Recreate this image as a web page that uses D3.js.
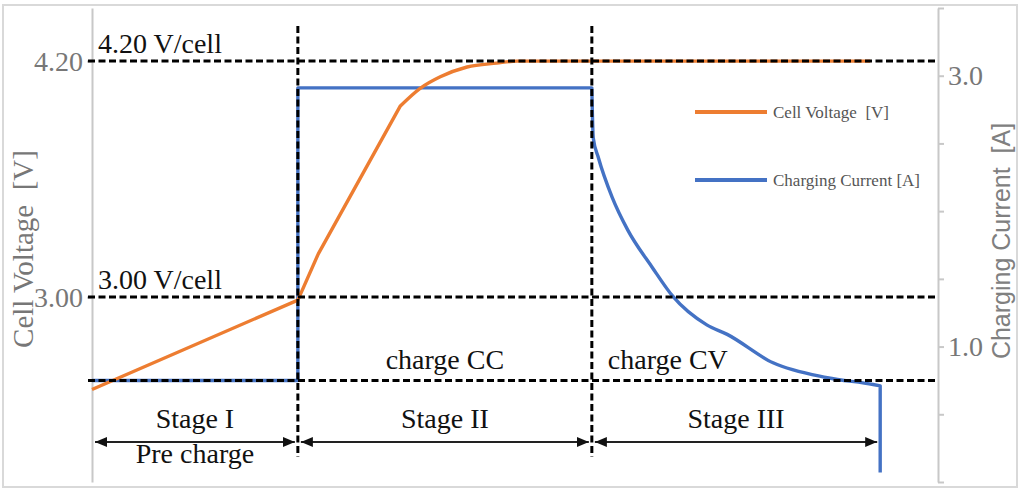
<!DOCTYPE html>
<html>
<meta charset="utf-8">
<style>
  body { margin: 0; background: #fff; }
  svg { display: block; }
  text { font-family: "Liberation Serif", "Times New Roman", serif; }
</style>

<body>
  <svg></svg>
</body>

<script src="https://d3js.org/d3.v7.min.js"></script>

<script>

  var width = 1021, height = 490;

  // time axis is not drawn, minutes
  var voltTime   = [0, 29.2, 32.1, 43.7, 46.5, 49.4, 53.2, 57.4, 60.3, 110.4];
  var voltValues = [2.53, 2.985, 3.22, 3.97, 4.06, 4.12, 4.17, 4.19, 4.20, 4.20];

  var currTime   = [0, 29.2, 29.2, 70.9, 71.1, 71.8, 73.8, 76.0, 79.4, 82.4, 87.2, 90.1, 96.6, 104.3, 110.8, 111.8, 111.8];
  var currValues = [0.75, 0.75, 2.91, 2.91, 2.54, 2.40, 2.10, 1.86, 1.59, 1.37, 1.16, 1.09, 0.88, 0.77, 0.72, 0.71, 0.07];

  var stageEdges = [0, 29.2, 70.9, 111.8];
  var stageNames = ["Stage I", "Stage II", "Stage III"];
  var modeLabels = ["charge CC", "charge CV"];

  var voltLevels = [4.20, 3.00];
  var voltLevelLabels = ["4.20 V/cell", "3.00 V/cell"];
  var currLevel = 0.75;

  var voltTicks = [3.00, 4.20];
  var currTicks = [0, 0.5, 1.0, 1.5, 2.0, 2.5, 3.0, 3.5];
  var currTickLabels = [1.0, 3.0];

  var seriesNames = ["Cell Voltage  [V]", "Charging Current [A]"];
  var orange = "#ed7d31", blue = "#4472c4";

  var svg = d3.select("svg")
    .attr("width", width)
    .attr("height", height);

  var x = d3.scaleLinear().domain([0, 120]).range([92, 938]);
  var yV = d3.scaleLinear().domain([2.06, 4.47]).range([482, 8]);
  var yC = d3.scaleLinear().domain([0, 3.5]).range([482, 8]);

  // outer frame
  svg.append("rect")
    .attr("x", 3).attr("y", 5)
    .attr("width", 1014).attr("height", 482)
    .attr("fill", "none")
    .attr("stroke", "#d9d9d9")
    .attr("stroke-width", 2);

  // axes
  var leftAxis = svg.append("g")
    .attr("transform", "translate(" + x(0) + ",0)")
    .call(d3.axisLeft(yV).tickValues(voltTicks).tickFormat(d3.format(".2f")).tickSize(5).tickSizeOuter(0).tickPadding(4));

  var rightAxis = svg.append("g")
    .attr("transform", "translate(" + x(120) + ",0)")
    .call(d3.axisRight(yC).tickValues(currTicks)
      .tickFormat(d => currTickLabels.indexOf(d) >= 0 ? d3.format(".1f")(d) : "")
      .tickSize(6).tickSizeOuter(0).tickPadding(4));

  [leftAxis, rightAxis].forEach(function (g) {
    g.select(".domain").attr("stroke", "#c8c8c8").attr("stroke-width", 2);
    g.selectAll(".tick line").attr("stroke", "#c8c8c8").attr("stroke-width", 2);
    g.selectAll(".tick text")
      .attr("fill", "#777")
      .style("font-family", '"Liberation Serif", serif')
      .style("font-size", "28px");
  });

  // axis titles
  svg.append("text")
    .attr("transform", "translate(33,249) rotate(-90)")
    .attr("text-anchor", "middle")
    .style("white-space", "pre")
    .style("font-size", "29px")
    .attr("fill", "#777")
    .text("Cell Voltage  [V]");

  svg.append("text")
    .attr("transform", "translate(1010,241) rotate(-90)")
    .attr("text-anchor", "middle")
    .style("white-space", "pre")
    .style("font-family", '"Liberation Sans", Arial, sans-serif')
    .style("font-size", "25px")
    .attr("fill", "#808080")
    .text("Charging Current  [A]");

  // series: straight steps, smooth constant-voltage decay
  var lin = d3.line().x(d => x(d.t)).y(d => d.y);
  var smooth = d3.line().curve(d3.curveMonotoneX).x(d => x(d.t)).y(d => d.y);

  var currPts = currValues.map((v, i) => ({ t: currTime[i], y: yC(v) }));
  var voltPts = voltValues.map((v, i) => ({ t: voltTime[i], y: yV(v) }));

  svg.append("path")
    .attr("d", lin(currPts.slice(0, 4)) + smooth(currPts.slice(3, 16)).replace(/^M/, "L") + lin(currPts.slice(15)).replace(/^M/, "L"))
    .attr("fill", "none")
    .attr("stroke", blue)
    .attr("stroke-width", 3.4)
    .attr("stroke-linejoin", "round");

  svg.append("path")
    .attr("d", lin(voltPts.slice(0, 4)) + smooth(voltPts.slice(3)).replace(/^M/, "L"))
    .attr("fill", "none")
    .attr("stroke", orange)
    .attr("stroke-width", 3.4)
    .attr("stroke-linejoin", "round");

  // dashed reference lines
  var dash = "7,3.5";
  var hLevels = voltLevels.map(v => yV(v)).concat([yC(currLevel)]);

  svg.selectAll(".hdash")
    .data(hLevels)
    .enter().append("line")
    .attr("x1", x(0) - 4).attr("x2", x(120))
    .attr("y1", d => d).attr("y2", d => d)
    .attr("stroke", "#000")
    .attr("stroke-width", 3)
    .attr("stroke-dasharray", dash);

  svg.selectAll(".vdash")
    .data(stageEdges.slice(1, 3))
    .enter().append("line")
    .attr("x1", d => x(d)).attr("x2", d => x(d))
    .attr("y1", 26).attr("y2", 457)
    .attr("stroke", "#000")
    .attr("stroke-width", 3)
    .attr("stroke-dasharray", dash);

  // level labels
  svg.selectAll(".lvl")
    .data(voltLevels)
    .enter().append("text")
    .attr("x", x(0) + 6)
    .attr("y", d => yV(d) - 8)
    .style("font-size", "28px")
    .attr("fill", "#111")
    .text((d, i) => voltLevelLabels[i]);

  // mode labels
  svg.append("text")
    .attr("x", (x(stageEdges[1]) + x(stageEdges[2])) / 2)
    .attr("y", yC(currLevel) - 11)
    .attr("text-anchor", "middle")
    .style("font-size", "28px")
    .attr("fill", "#111")
    .text(modeLabels[0]);

  svg.append("text")
    .attr("x", x(stageEdges[2]) + 16)
    .attr("y", yC(currLevel) - 11)
    .style("font-size", "28px")
    .attr("fill", "#111")
    .text(modeLabels[1]);

  // stage arrows
  var defs = svg.append("defs");
  defs.append("marker")
    .attr("id", "arrow")
    .attr("viewBox", "0 0 12 10")
    .attr("refX", 12).attr("refY", 5)
    .attr("markerWidth", 12).attr("markerHeight", 10)
    .attr("markerUnits", "userSpaceOnUse")
    .attr("orient", "auto-start-reverse")
    .append("path")
    .attr("d", "M0,0L12,5L0,10z")
    .attr("fill", "#111");

  var stages = stageNames.map((n, i) => ({ name: n, a: stageEdges[i], b: stageEdges[i + 1] }));

  svg.selectAll(".arrow")
    .data(stages)
    .enter().append("line")
    .attr("x1", d => x(d.a) + 3).attr("x2", d => x(d.b) - 3)
    .attr("y1", 442).attr("y2", 442)
    .attr("stroke", "#222")
    .attr("stroke-width", 1.8)
    .attr("marker-start", "url(#arrow)")
    .attr("marker-end", "url(#arrow)");

  svg.selectAll(".stage")
    .data(stages)
    .enter().append("text")
    .attr("x", d => (x(d.a) + x(d.b)) / 2)
    .attr("y", 428)
    .attr("text-anchor", "middle")
    .style("font-size", "28px")
    .attr("fill", "#111")
    .text(d => d.name);

  svg.append("text")
    .attr("x", (x(stageEdges[0]) + x(stageEdges[1])) / 2)
    .attr("y", 463)
    .attr("text-anchor", "middle")
    .style("font-size", "28px")
    .attr("fill", "#111")
    .text("Pre charge");

  // legend
  var legend = svg.append("g").attr("transform", "translate(695,112)");
  var items = legend.selectAll("g")
    .data(seriesNames)
    .enter().append("g")
    .attr("transform", (d, i) => "translate(0," + i * 68 + ")");

  items.append("line")
    .attr("x1", 0).attr("x2", 72)
    .attr("stroke", (d, i) => i === 0 ? orange : blue)
    .attr("stroke-width", 4);

  items.append("text")
    .attr("x", 78).attr("y", 6)
    .style("white-space", "pre")
    .style("font-size", "17px")
    .attr("fill", "#555")
    .text(d => d);

</script>

</html>
